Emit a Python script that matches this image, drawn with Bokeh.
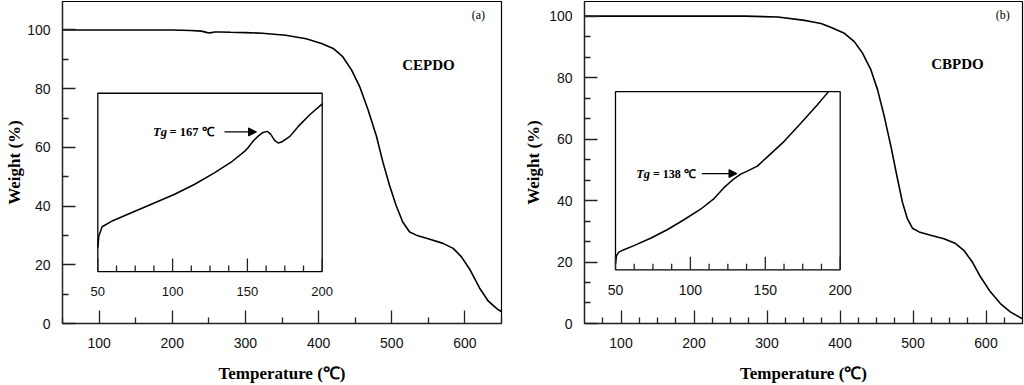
import math
from bokeh.plotting import figure
from bokeh.models import FixedTicker, Range1d, Arrow, NormalHead
from bokeh.layouts import row
from bokeh.embed import file_html
from bokeh.resources import INLINE
from bokeh.core.properties import value

# ---------------- data ----------------
# (a) CEPDO TGA curve
temp_a = [50, 100, 150, 200, 225, 240, 248, 252, 258, 265, 280, 300, 323, 355, 383,
          404, 420, 433, 445, 456, 467.5, 479, 488, 497, 506, 515, 524.5, 533.6,
          552, 570, 584, 595, 607, 620, 632, 644, 650]
weight_a = [100, 100, 100, 100, 99.8, 99.6, 99.1, 99.0, 99.3, 99.3, 99.2, 99.1, 98.9,
            98.2, 97.0, 95.4, 93.7, 90.9, 86.4, 80.8, 72.9, 63.9, 54.9, 47.0, 40.2,
            34.6, 31.2, 30.1, 28.7, 27.3, 25.6, 22.8, 18.3, 12.1, 7.6, 5.0, 4.0]
# (a) inset DSC curve (arbitrary units)
inset_temp_a = [50, 50.7, 52.9, 60, 69.7, 85.4, 101, 114.5, 127.9, 139.1, 148.1, 150.3,
                153.7, 157.0, 160.4, 163.3, 165.5, 168.2, 170.5, 172.8, 178.4, 184,
                191.7, 200]
inset_flow_a = [13.4, 19.9, 25.1, 28.5, 32.0, 37.6, 43.2, 48.8, 55.3, 61.3, 67.4, 69.3,
                73.0, 75.8, 78.0, 78.6, 77.1, 73.6, 72.1, 72.6, 75.8, 81.4, 87.9, 94.0]

# (b) CBPDO TGA curve
temp_b = [50, 150, 270, 315, 351.5, 363, 374, 388, 406, 419.6, 431, 442.4, 451.5,
          460.6, 469.7, 478.8, 485.6, 492.4, 499.2, 508.3, 524.2, 542.4, 558.3, 569.6,
          581, 592.4, 606, 619.7, 633.3, 647, 650]
weight_b = [100, 100, 100, 99.7, 98.6, 98.1, 97.6, 96.3, 94.4, 91.7, 87.9, 82.5, 76.0,
            67.4, 57.7, 47.0, 39.4, 34.0, 31.0, 29.8, 28.7, 27.6, 26.0, 23.8, 20.1,
            15.2, 10.3, 6.5, 3.8, 1.9, 1.6]
# (b) inset DSC curve (arbitrary units)
inset_temp_b = [50, 50.7, 52.2, 55.6, 62.3, 73.4, 84.5, 95.7, 106.8, 115.8, 122.4, 129.1,
                133.6, 138.0, 144.7, 151.4, 162.6, 173.7, 184.8, 192.2]
inset_flow_b = [3.3, 8.0, 9.9, 11.3, 13.6, 17.7, 22.5, 28.1, 34.0, 40.0, 46.1, 51.1,
                53.7, 55.4, 58.2, 63.4, 72.1, 82.3, 92.6, 100]

# ticks
x_major = [100, 200, 300, 400, 500, 600]
x_minor_a = [50, 150, 250, 350, 450, 550, 650]
x_minor_b = [75, 125, 150, 175, 225, 250, 275, 325, 350, 375, 425, 450, 475,
             525, 550, 575, 625]
y_major = [0, 20, 40, 60, 80, 100]
y_minor_a = [10, 30, 50, 70, 90]
y_minor_b = [6.67, 13.33, 26.67, 33.33, 46.67, 53.33, 66.67, 73.33, 86.67, 93.33]
inset_major = [50, 100, 150, 200]
inset_minor = [62.5, 75, 87.5, 112.5, 125, 137.5, 162.5, 175, 187.5]
inset_labels = ["50", "100", "150", "200"]

SANS = "Liberation Sans"
SERIF = "'Liberation Serif', 'Times New Roman', serif"
H = 385


def panel(width, mb_left, mb_right, ytitle_standoff, y_top, minor_x, minor_y,
          temp, weight, itemp, iflow, ix_rng, iy_rng, inset_fs,
          tag, tag_xy, name, name_xy, tg_text, tg_xy, eq_xy, tg_fs, arrow_x, arrow_y):
    p = figure(width=width, height=H, x_range=Range1d(50, 650),
               y_range=Range1d(0, y_top), output_backend="svg",
               toolbar_location=None, min_border_left=mb_left,
               min_border_right=mb_right, min_border_top=1, min_border_bottom=60)
    p.grid.visible = False
    p.outline_line_color = "black"
    p.outline_line_width = 1.2
    p.background_fill_color = "white"

    p.xaxis.ticker = FixedTicker(ticks=x_major, minor_ticks=minor_x)
    p.yaxis.ticker = FixedTicker(ticks=y_major, minor_ticks=minor_y)
    for ax in (p.xaxis[0], p.yaxis[0]):
        ax.axis_line_color = "#222222"
        ax.axis_line_width = 1.3
        ax.major_tick_line_color = "#222222"
        ax.minor_tick_line_color = "#222222"
        ax.major_tick_line_width = 1.3
        ax.minor_tick_line_width = 1.3
        ax.major_tick_in = 13
        ax.major_tick_out = 0
        ax.minor_tick_in = 6
        ax.minor_tick_out = 0
        ax.major_label_text_font = SANS
        ax.major_label_text_font_size = "14px"
        ax.major_label_text_color = "#111111"
        ax.axis_label_text_font = SERIF
        ax.axis_label_text_font_style = "bold"
        ax.axis_label_text_font_size = "17px"
        ax.axis_label_text_color = "black"
    p.xaxis.axis_label = "Temperature (\u2103)"
    p.yaxis.axis_label = "Weight (%)"
    p.xaxis.major_label_standoff = 14
    p.xaxis.axis_label_standoff = 13
    p.yaxis.major_label_standoff = 12
    p.yaxis.axis_label_standoff = ytitle_standoff

    # main TGA curve
    p.line(temp, weight, line_color="black", line_width=1.6)

    # inset coordinate system
    p.extra_x_ranges = {"ix": Range1d(*ix_rng)}
    p.extra_y_ranges = {"iy": Range1d(*iy_rng)}
    kw = dict(x_range_name="ix", y_range_name="iy")
    p.quad(left=[inset_major[0]], right=[inset_major[-1]], bottom=[0], top=[100],
           fill_color="white", line_color="black", line_width=1.3, **kw)
    p.line(itemp, iflow, line_color="black", line_width=1.5, **kw)
    p.ray(x=inset_major, y=[0] * len(inset_major), length=13, angle=math.pi / 2,
          length_units="screen", line_color="#222222", line_width=1.3, **kw)
    p.ray(x=inset_minor, y=[0] * len(inset_minor), length=6, angle=math.pi / 2,
          length_units="screen", line_color="#222222", line_width=1.3, **kw)
    p.text(x=inset_major, y=[0] * len(inset_major), text=inset_labels, y_offset=20,
           text_align="center", text_baseline="middle", text_font=value(SANS),
           text_font_size=inset_fs, text_color="#111111", **kw)

    # Tg annotation
    p.text(x=[tg_xy[0]], y=[tg_xy[1]], text=["Tg"], text_align="left",
           text_baseline="middle", text_font=value(SERIF),
           text_font_style="bold italic", text_font_size="12.5px", **kw)
    p.text(x=[eq_xy[0]], y=[eq_xy[1]], text=[tg_text], text_align="left",
           text_baseline="middle", text_font=value(SERIF),
           text_font_style="bold", text_font_size=tg_fs, **kw)
    p.add_layout(Arrow(end=NormalHead(size=8, fill_color="black", line_color="black"),
                       x_start=arrow_x[0], x_end=arrow_x[1], y_start=arrow_y,
                       y_end=arrow_y, line_color="black", line_width=1.1, **kw))

    # panel tag and sample name
    p.text(x=[tag_xy[0]], y=[tag_xy[1]], text=[tag], text_align="center",
           text_baseline="middle", text_font=value(SERIF), text_font_size="12px")
    p.text(x=[name_xy[0]], y=[name_xy[1]], text=[name], text_align="center",
           text_baseline="middle", text_font=value(SERIF), text_font_style="bold",
           text_font_size="15px")
    return p


pa = panel(512, 62, 11, 0, 109.7, x_minor_a, y_minor_a,
           temp_a, weight_a, inset_temp_a, inset_flow_a,
           (26.40, 319.85), (-29.15, 151.45), "13px",
           "(a)", (618.5, 105.1), "CEPDO", (550.2, 88.0),
           "= 167 \u2103", (86.9, 78.3), (97.9, 78.3), "12.5px", (134.7, 156.1), 78.3)

pb = panel(512, 72, 2, 3, 104.75, x_minor_b, y_minor_b,
           temp_b, weight_b, inset_temp_b, inset_flow_b,
           (29.31, 321.70), (-30.12, 150.58), "14px",
           "(b)", (623, 100.2), "CBPDO", (561, 84.4),
           "= 138 \u2103", (63.8, 54.0), (75.0, 54.0), "12px", (107.6, 131.1), 54.0)

layout = row(pa, pb, spacing=0)
open("out.html", "w").write(file_html(layout, INLINE))
